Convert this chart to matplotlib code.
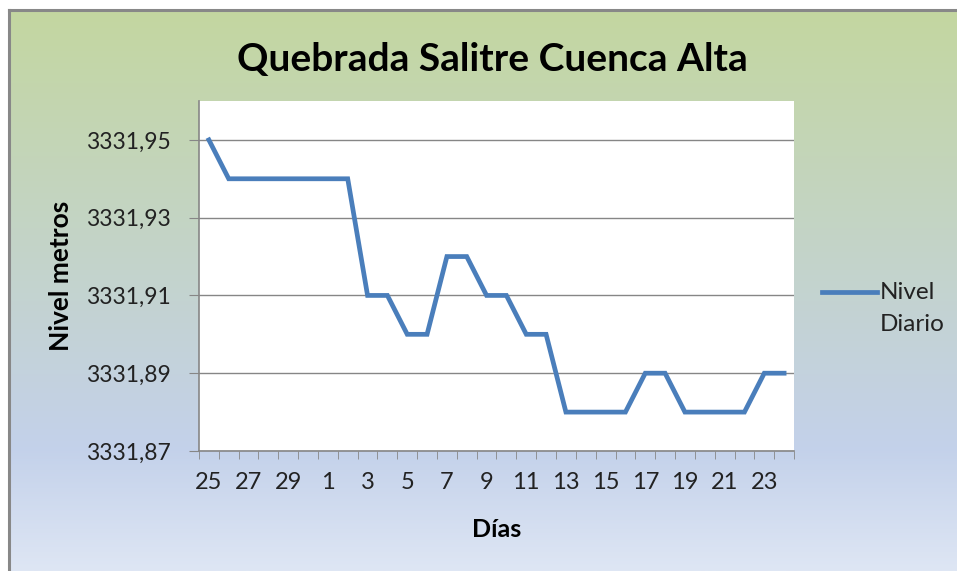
import numpy as np
import matplotlib
matplotlib.use("Agg")
import matplotlib.pyplot as plt
from matplotlib.ticker import FuncFormatter, FixedLocator
from matplotlib.colors import LinearSegmentedColormap
from matplotlib.lines import Line2D

dias = [25, 26, 27, 28, 29, 30] + list(range(1, 25))
nivel = [3331.95, 3331.94, 3331.94, 3331.94, 3331.94, 3331.94, 3331.94, 3331.94,
         3331.91, 3331.91, 3331.90, 3331.90, 3331.92, 3331.92, 3331.91, 3331.91,
         3331.90, 3331.90, 3331.88, 3331.88, 3331.88, 3331.88, 3331.89, 3331.89,
         3331.88, 3331.88, 3331.88, 3331.88, 3331.89, 3331.89]
y_ticks = [3331.87, 3331.89, 3331.91, 3331.93, 3331.95]
serie = ["Nivel", "Diario"]

plt.rcParams['font.family'] = ['Lato', 'DejaVu Sans']

fig = plt.figure(figsize=(9.57, 5.71), dpi=100)

# gradient background (green -> blue -> light blue)
bg = fig.add_axes([0.0095, 0, 0.9905, 0.983], zorder=-10)
cmap = LinearSegmentedColormap.from_list("bg", [(0, "#c4d7a0"), (0.78, "#c3d1ea"), (1, "#dee6f4")])
grad = np.linspace(0, 1, 256).reshape(-1, 1)
bg.imshow(grad, aspect="auto", cmap=cmap, extent=[0, 1, 0, 1], origin="upper")
bg.set_axis_off()

# outer frame lines (top and left)
fig.add_artist(Line2D([0.0095, 1], [0.983, 0.983], color="#888888", lw=2.2, transform=fig.transFigure))
fig.add_artist(Line2D([0.0095, 0.0095], [0, 0.983], color="#888888", lw=2.2, transform=fig.transFigure))

ax = fig.add_axes([0.2079, 0.2102, 0.6218, 0.6129])
ax.set_facecolor("white")
x = np.arange(len(dias))
color = "#4a7ebb"
ax.plot(x, nivel, color=color, lw=3.4, solid_joinstyle="miter", zorder=3)

ax.set_xlim(-0.5, len(dias) - 0.5)
ax.set_ylim(3331.87, 3331.96)
ax.yaxis.set_major_locator(FixedLocator(y_ticks))
ax.yaxis.set_major_formatter(FuncFormatter(lambda v, p: f"{v:.2f}".replace(".", ",")))
ax.grid(axis="y", color="#868686", lw=1)

ax.set_xticks(x[::2])
ax.set_xticklabels([str(d) for d in dias[::2]])
ax.set_xticks(np.arange(-0.5, len(dias)), minor=True)
ax.tick_params(axis="x", which="major", length=0, pad=15, labelsize=17, labelcolor="#222222")
ax.tick_params(axis="x", which="minor", length=6, color="#868686")
ax.tick_params(axis="y", length=7, color="#868686", pad=13, labelsize=16.5, labelcolor="#222222")

for s in ["top", "right"]:
    ax.spines[s].set_visible(False)
for s in ["left", "bottom"]:
    ax.spines[s].set_color("#868686")
    ax.spines[s].set_linewidth(1.2)

ax.set_xlabel("Días", fontsize=18, fontweight="bold", labelpad=18)
ax.set_ylabel("Nivel metros", fontsize=19, fontweight="bold", labelpad=10)

fig.text(0.514, 0.895, "Quebrada Salitre Cuenca Alta", ha="center", va="center",
         fontsize=28, fontweight="bold")

# legend: handle aligned with first text line, second line below
fig.add_artist(Line2D([0.859, 0.916], [0.4886, 0.4886], color=color, lw=3.4,
                      transform=fig.transFigure))
fig.text(0.9195, 0.4886, serie[0], ha="left", va="center", fontsize=17.5, color="#222222")
fig.text(0.9195, 0.431, serie[1], ha="left", va="center", fontsize=17.5, color="#222222")

fig.savefig("out.png", dpi=100)
